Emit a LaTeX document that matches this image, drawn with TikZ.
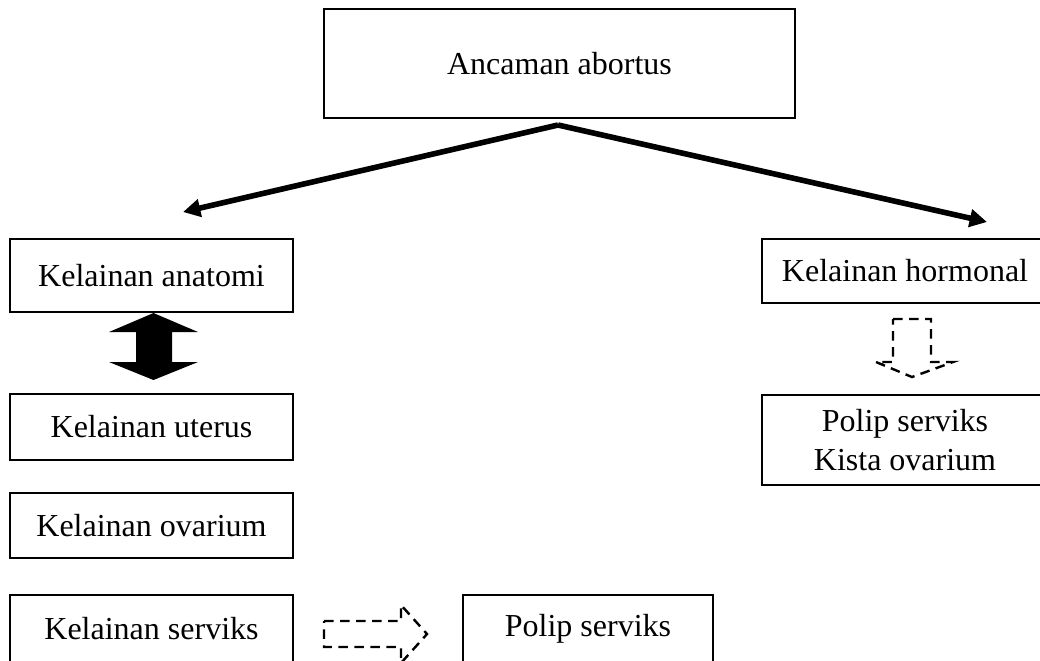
\documentclass[tikz,border=0pt]{standalone}
\usepackage{fontspec}
\setmainfont{Liberation Serif}
\usetikzlibrary{arrows.meta}
\begin{document}
\begin{tikzpicture}[x=0.375pt, y=-0.375pt, >={Triangle[length=6.5pt,width=6.5pt]},
    font=\fontsize{12}{14.5}\selectfont]
        \tikzset{box/.style={draw, line width=0.75pt, minimum width=106.1pt, align=center, inner sep=2pt},
                 thickarrow/.style={->, line width=2.1pt},
                 dasharrow/.style={draw, line width=0.9pt, dash pattern=on 3.6pt off 2.4pt, line join=miter}}
        \useasboundingbox (0,0) rectangle (1040,660);
        \clip (0,0) rectangle (1040,660);
        \node[box, minimum width=176.6pt, minimum height=40.9pt] (ancaman) at (559.5,63.5) {Ancaman abortus};
        \node[box, minimum height=27.4pt] (anatomi) at (151.5,275.5) {Kelainan anatomi};
        \node[box, minimum height=24.75pt] (uterus) at (151.5,427) {Kelainan uterus};
        \node[box, minimum height=24.4pt] (ovarium) at (151.5,525.5) {Kelainan ovarium};
        \node[box, minimum height=25.5pt] (serviks) at (151.5,629) {Kelainan serviks};
        \node[box, minimum width=93.75pt, minimum height=25.5pt] (polipB) at (588,629) {Polip serviks};
        \node[box, minimum width=107.25pt, minimum height=24pt] (hormonal) at (905,271) {Kelainan hormonal};
        \node[box, minimum width=107.25pt, minimum height=33.75pt] (polipK) at (905,440) {Polip serviks\\Kista ovarium};
        % thick arrows from the top box
        \coordinate (apex) at (558,125);
        \coordinate (tipL) at (183,212);
        \coordinate (tipR) at (987,222);
        \draw[thickarrow] (apex) -- (tipL);
        \draw[thickarrow] (apex) -- (tipR);
        % block double arrow
        \fill (153.5,313) -- (198,332) -- (172,332) -- (172,362) -- (198,362) -- (153.5,380)
            -- (109,362) -- (136,362) -- (136,332) -- (109,332) -- cycle;
        % dashed block arrows
        \path[dasharrow] (893,319) -- (931,319) -- (931,362) -- (953,362) -- (912,377)
            -- (876,362) -- (893,362) -- cycle;
        \path[dasharrow] (324,621) -- (401,621) -- (401,605) -- (427,634) -- (401,663)
            -- (401,647) -- (324,647) -- cycle;
    \end{tikzpicture}
\end{document}
